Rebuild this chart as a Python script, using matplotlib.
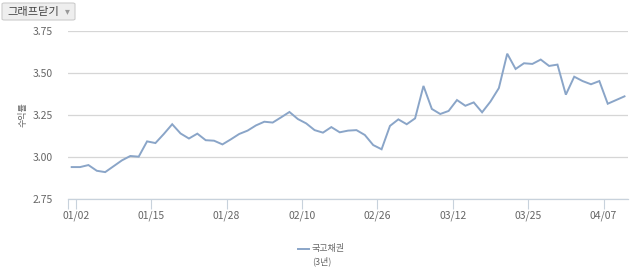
import matplotlib
matplotlib.use("Agg")
import matplotlib.pyplot as plt
from matplotlib.patches import FancyBboxPatch
from matplotlib.lines import Line2D

plt.rcParams['font.family'] = ['Noto Sans CJK KR', 'DejaVu Sans']

# 국고채권(3년) yields, one value per trading day
yields = [
    2.94, 2.94, 2.952, 2.918, 2.91, 2.945, 2.98, 3.006, 3.002, 3.093,
    3.083, 3.137, 3.195, 3.14, 3.11, 3.139, 3.10, 3.097, 3.075, 3.105,
    3.137, 3.157, 3.188, 3.21, 3.205, 3.236, 3.268, 3.226, 3.20, 3.16,
    3.145, 3.178, 3.147, 3.157, 3.16, 3.131, 3.071, 3.046, 3.185, 3.224,
    3.195, 3.23, 3.423, 3.286, 3.256, 3.274, 3.339, 3.305, 3.325, 3.266,
    3.33, 3.41, 3.615, 3.524, 3.558, 3.554, 3.58, 3.542, 3.55, 3.371,
    3.478, 3.452, 3.433, 3.452, 3.317, 3.339, 3.361,
]
tick_labels = ["01/02", "01/15", "01/28", "02/10", "02/26", "03/12", "03/25", "04/07"]
y_ticks = [2.75, 3.00, 3.25, 3.50, 3.75]

line_color = "#8aa5c8"
text_color = "#666666"

fig = plt.figure(figsize=(6.4, 2.77), dpi=100)
ax = fig.add_axes([68 / 640, 78 / 277, 560 / 640, 168 / 277])

x = list(range(len(yields)))
ax.plot(x, yields, color=line_color, linewidth=1.4, solid_joinstyle="miter")

ax.set_ylim(2.75, 3.75)
ax.set_xlim(-0.44, len(yields) - 1 + 0.42)

ax.set_yticks(y_ticks)
ax.set_yticklabels(["%.2f" % v for v in y_ticks])
ax.yaxis.grid(True, color="#d6d6d6", linewidth=0.9)
ax.tick_params(axis="y", length=0, pad=11, labelsize=7.5, labelcolor=text_color)

# category ticks every 9 points, placed between points
tick_pos = [0.5 + 9 * k for k in range(len(tick_labels))]
ax.set_xticks(tick_pos)
ax.set_xticklabels(tick_labels)
ax.set_xticks([-0.44], minor=True)
ax.tick_params(axis="x", which="both", length=7, width=0.8, color="#c8d2dc",
               pad=1, labelsize=7.5, labelcolor=text_color)

for side in ["top", "right", "left"]:
    ax.spines[side].set_visible(False)
ax.spines["bottom"].set_color("#c8d2dc")
ax.spines["bottom"].set_linewidth(0.9)
ax.set_axisbelow(True)

ax.set_ylabel("수익률", fontsize=6.5, color=text_color)
ax.yaxis.set_label_coords(-0.072, 0.5)

# legend below the chart
fig.add_artist(Line2D([298 / 640, 309 / 640], [1 - 249 / 277, 1 - 249 / 277],
                      color=line_color, linewidth=1.4))
fig.text(312 / 640, 1 - 249 / 277, "국고채권", fontsize=6.5, color=text_color,
         ha="left", va="center")
fig.text(322 / 640, 1 - 261 / 277, "(3년)", fontsize=6.5, color=text_color,
         ha="center", va="center")

# "그래프닫기" button in the top-left corner
btn = FancyBboxPatch((2 / 640, 1 - 20 / 277), 73 / 640, 17 / 277,
                     boxstyle="round,pad=0,rounding_size=0.004",
                     transform=fig.transFigure, facecolor="#eeeeee",
                     edgecolor="#cccccc", linewidth=0.8)
fig.add_artist(btn)
fig.text(7 / 640, 1 - 11.5 / 277, "그래프닫기", fontsize=8.1, color="#444444",
         ha="left", va="center")
fig.text(67 / 640, 1 - 11.5 / 277, "▾", fontsize=7, color="#999999",
         ha="center", va="center")

fig.savefig("out.png", dpi=100, facecolor="white")
